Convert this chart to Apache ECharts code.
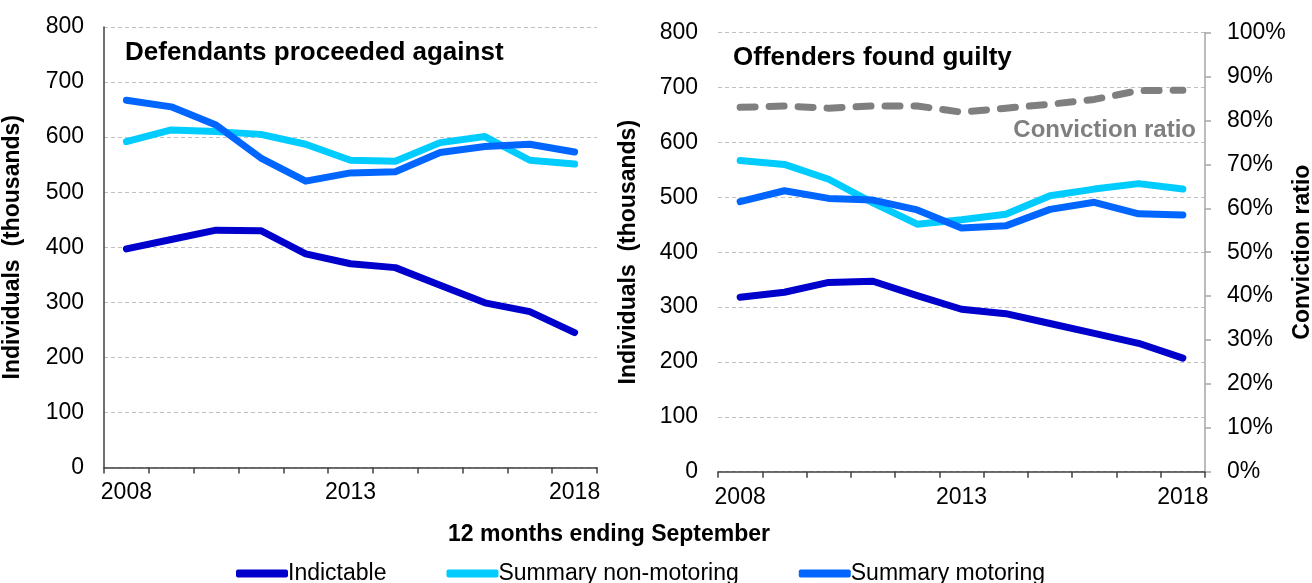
<!DOCTYPE html>
<html>
<head>
<meta charset="utf-8">
<script src="https://cdn.jsdelivr.net/npm/echarts@6/dist/echarts.min.js"></script>
<style>
  html, body { margin: 0; padding: 0; background: #fff; }
  #main { width: 1312px; height: 583px; }
</style>
</head>
<body>
<div id="main"></div>
<script>
  // years, 12 months ending September
  var years = ['2008','2009','2010','2011','2012','2013','2014','2015','2016','2017','2018'];

  // defendants proceeded against (thousands)
  var procIndictable = [397, 414, 431, 430, 388, 370, 363, 331, 299, 283, 245];
  var procNonMotoring = [592, 613, 610, 605, 587, 558, 556, 590, 601, 558, 551];
  var procMotoring = [667, 655, 622, 562, 520, 535, 537, 572, 583, 587, 573];

  // offenders found guilty (thousands)
  var guiltyIndictable = [318, 327, 345, 347, 321, 296, 288, 270, 252, 234, 207];
  var guiltyNonMotoring = [567, 560, 533, 490, 451, 459, 469, 503, 515, 525, 515];
  var guiltyMotoring = [492, 512, 498, 495, 477, 444, 448, 478, 491, 470, 468];

  // conviction ratio (%)
  var convictionRatio = [83.0, 83.3, 82.8, 83.3, 83.3, 81.9, 82.8, 83.7, 84.8, 86.8, 86.9];

  var colIndictable = '#0000CC';
  var colNonMotoring = '#00CCFF';
  var colMotoring = '#0066FF';
  var font = 'Liberation Sans, Arial, sans-serif';

  var myChart = echarts.init(document.getElementById('main'));

  function xAxisFor(idx) {
    return {
      type: 'category',
      gridIndex: idx,
      data: years,
      boundaryGap: true,
      axisLine: { lineStyle: { color: '#404040', width: 1.5 } },
      axisTick: { show: true, interval: 0, length: 6, lineStyle: { color: '#404040', width: 1.5 } },
      axisLabel: { interval: 4, color: '#000', fontSize: 23, fontFamily: font, margin: 14 },
      splitLine: { show: false }
    };
  }

  function leftYAxis(idx, showLine, gap) {
    return {
      type: 'value',
      gridIndex: idx,
      min: 0, max: 800, interval: 100,
      name: 'Individuals  (thousands)',
      nameLocation: 'middle',
      nameGap: gap,
      nameTextStyle: { color: '#000', fontSize: 23, fontWeight: 'bold', fontFamily: font },
      axisLine: { show: showLine, lineStyle: { color: '#404040', width: 1.5 } },
      axisTick: { show: false },
      axisLabel: { color: '#000', fontSize: 23, fontFamily: font, margin: 20 },
      splitLine: { lineStyle: { color: '#c0c0c0', type: [4, 3], width: 1 } }
    };
  }

  function line(name, data, color, xi, yi) {
    return {
      name: name,
      type: 'line',
      xAxisIndex: xi,
      yAxisIndex: yi,
      data: data,
      symbol: 'none',
      smooth: false,
      lineStyle: { color: color, width: 7, cap: 'round', join: 'round' },
      itemStyle: { color: color }
    };
  }

  var option = {
    animation: false,
    grid: [
      { left: 104, right: 715, top: 27, bottom: 115.5, outerBoundsMode: 'none' },
      { left: 718, right: 107, top: 32.7, bottom: 111.3, outerBoundsMode: 'none' }
    ],
    legend: {
      left: 231,
      top: 557,
      itemWidth: 52,
      itemHeight: 8,
      itemGap: 60,
      icon: 'roundRect',
      textStyle: { color: '#000', fontSize: 23, fontFamily: font, padding: [0, 0, 0, -5] },
      data: ['Indictable', 'Summary non-motoring', 'Summary motoring']
    },
    xAxis: [xAxisFor(0), xAxisFor(1)],
    yAxis: [
      leftYAxis(0, true, 80),
      leftYAxis(1, false, 78),
      {
        type: 'value',
        gridIndex: 1,
        position: 'right',
        min: 0, max: 100, interval: 10,
        name: 'Conviction ratio',
        nameLocation: 'middle',
        nameGap: 86,
        nameTextStyle: { color: '#000', fontSize: 23, fontWeight: 'bold', fontFamily: font },
        axisLine: { show: true, lineStyle: { color: '#a6a6a6', width: 1.5 } },
        axisTick: { show: true, inside: false, length: 6, lineStyle: { color: '#a6a6a6', width: 1.5 } },
        axisLabel: { color: '#000', fontSize: 23, fontFamily: font, margin: 22, formatter: '{value}%' },
        splitLine: { show: false }
      }
    ],
    graphic: [
      { type: 'text', left: 125, top: 40,
        style: { text: 'Defendants proceeded against', fill: '#000', font: 'bold 26px ' + font } },
      { type: 'text', left: 733, top: 45,
        style: { text: 'Offenders found guilty', fill: '#000', font: 'bold 26px ' + font } },
      { type: 'text', right: 116, top: 118,
        style: { text: 'Conviction ratio', fill: '#7f7f7f', font: 'bold 24px ' + font } },
      { type: 'text', left: 448, top: 523,
        style: { text: '12 months ending September', fill: '#000', font: 'bold 23px ' + font } }
    ],
    series: [
      line('Indictable', procIndictable, colIndictable, 0, 0),
      line('Summary non-motoring', procNonMotoring, colNonMotoring, 0, 0),
      line('Summary motoring', procMotoring, colMotoring, 0, 0),
      line('Indictable', guiltyIndictable, colIndictable, 1, 1),
      line('Summary non-motoring', guiltyNonMotoring, colNonMotoring, 1, 1),
      line('Summary motoring', guiltyMotoring, colMotoring, 1, 1),
      {
        name: 'Conviction ratio',
        type: 'line',
        xAxisIndex: 1,
        yAxisIndex: 2,
        data: convictionRatio,
        symbol: 'none',
        lineStyle: { color: '#7f7f7f', width: 7, type: [15, 14], cap: 'round', join: 'round' },
        itemStyle: { color: '#7f7f7f' }
      }
    ]
  };

  myChart.setOption(option);
</script>
</body>
</html>
